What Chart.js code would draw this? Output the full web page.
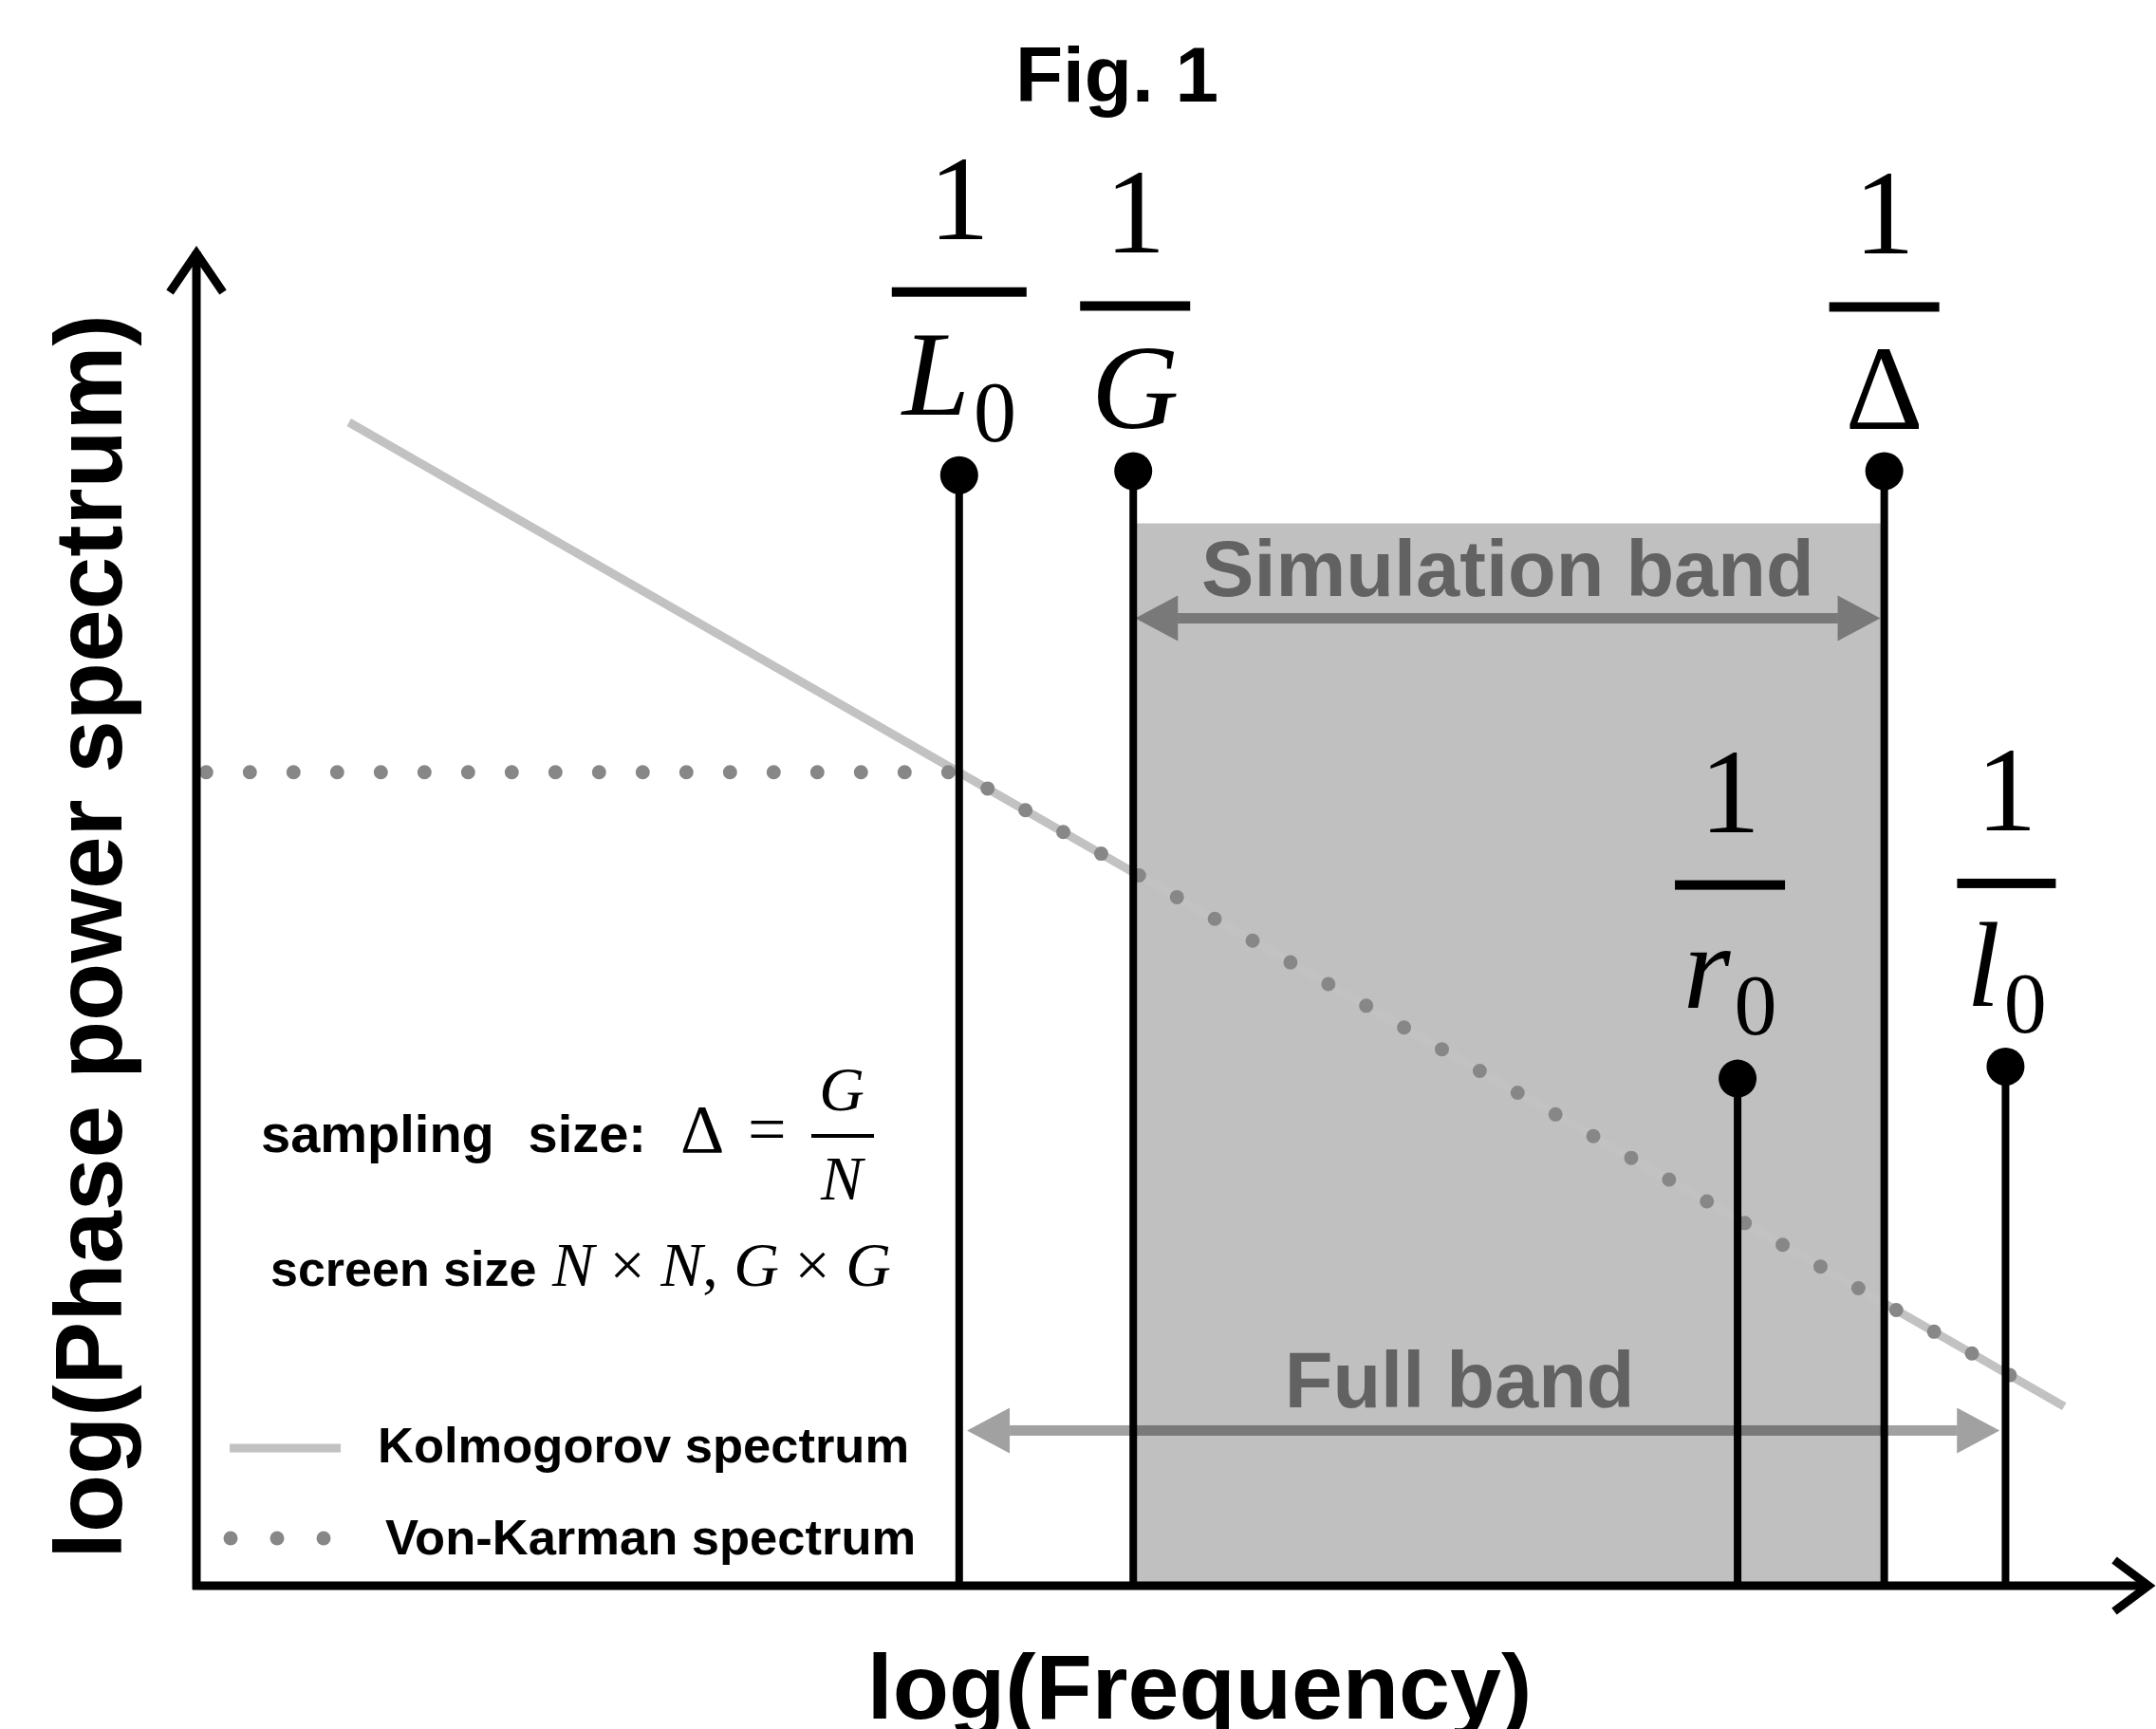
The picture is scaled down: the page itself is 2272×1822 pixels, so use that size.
<!DOCTYPE html>
<html>
<head>
<meta charset="utf-8">
<title>Fig. 1</title>
<script src="https://cdn.jsdelivr.net/npm/chart.js@4.4.0/dist/chart.umd.min.js"></script>
<style>
  html, body { margin: 0; padding: 0; background: #ffffff; }
  canvas { display: block; }
</style>
</head>
<body>
<canvas id="figChart" width="2272" height="1822"></canvas>
<script>
// Axis units: log(Frequency) and log(Power) both run 0 (origin) .. 100 (arrow tip)

// Characteristic frequencies (stems)
const stemNames = ['L0', 'G', 'r0', 'Delta', 'l0'];
const stemX = [39.0, 47.9, 78.8, 86.3, 92.5];
const stemTop = [83.0, 83.3, 37.9, 83.3, 38.8];

// Simulation band: between 1/G and 1/Delta
const bandX = [47.9, 86.3];
const bandTop = [79.4, 79.4];

// Kolmogorov spectrum (straight line in log-log)
const kolmogorovX = [7.8, 95.5];
const kolmogorovY = [86.95, 13.4];

// Von-Karman spectrum (flat below 1/L0, then follows Kolmogorov)
const vonKarmanX = [0.5, 39.0, 93.0];
const vonKarmanY = [60.8, 60.8, 15.5];

// Band arrows
const arrowNames = ['Simulation band', 'Full band'];
const arrowFrom = [48.0, 39.4];
const arrowTo = [86.1, 92.2];
const arrowY = [72.3, 11.6];

// Styles
const SANS = '"Liberation Sans", Arial, sans-serif';
const SERIF = '"Liberation Serif", "Times New Roman", serif';
const kolmogorovColor = '#c2c2c2';
const vonKarmanColor = '#878787';
const bandColor = '#c0c0c0';
const arrowColor = 'rgba(0, 0, 0, 0.37)';
const arrowTextColor = '#626262';
const arrowTextDx = [0, -25];

// Fraction labels 1/x above each stem (gap = px from dot to fraction bar)
const stemLabelStyle = [
    { den: 'L', sub: '0', italic: true,  gap: 193, half: 71, dx: 0 },
    { den: 'G', sub: '',  italic: true,  gap: 174, half: 58, dx: 2 },
    { den: 'r', sub: '0', italic: true,  gap: 204, half: 58, dx: -8 },
    { den: '\u0394', sub: '', italic: false, gap: 173, half: 58, dx: 0 },
    { den: 'l', sub: '0', italic: true,  gap: 193, half: 52, dx: 1 }
];

function toPoints(xs, ys) {
    return xs.map((x, i) => ({ x: x, y: ys[i] }));
}

// Draw a double headed horizontal arrow
function drawDoubleArrow(ctx, x1, x2, y) {
    const head = 45, half = 24, shaft = 11;
    ctx.fillStyle = arrowColor;
    ctx.fillRect(x1 + head, y - shaft / 2, x2 - x1 - 2 * head, shaft);
    ctx.beginPath();
    ctx.moveTo(x1, y);
    ctx.lineTo(x1 + head, y - half);
    ctx.lineTo(x1 + head, y + half);
    ctx.closePath();
    ctx.moveTo(x2, y);
    ctx.lineTo(x2 - head, y - half);
    ctx.lineTo(x2 - head, y + half);
    ctx.closePath();
    ctx.fill();
}

function drawAxes(ctx, area) {
    ctx.strokeStyle = '#000';
    ctx.lineWidth = 9;
    ctx.lineCap = 'butt';
    ctx.lineJoin = 'miter';
    // y axis
    ctx.beginPath();
    ctx.moveTo(area.left, area.bottom + 4);
    ctx.lineTo(area.left, area.top + 4);
    ctx.stroke();
    ctx.beginPath();
    ctx.moveTo(area.left - 28, area.top + 47);
    ctx.lineTo(area.left, area.top + 6);
    ctx.lineTo(area.left + 28, area.top + 47);
    ctx.stroke();
    // x axis
    ctx.beginPath();
    ctx.moveTo(area.left - 4, area.bottom);
    ctx.lineTo(area.right - 4, area.bottom);
    ctx.stroke();
    ctx.beginPath();
    ctx.moveTo(area.right - 40, area.bottom - 27);
    ctx.lineTo(area.right - 4, area.bottom);
    ctx.lineTo(area.right - 40, area.bottom + 27);
    ctx.stroke();
}

// Fraction 1/x labels above the stems
function drawStemLabels(ctx, xs, ys) {
    stemX.forEach((x, i) => {
        const st = stemLabelStyle[i];
        const cx = xs.getPixelForValue(x) + st.dx;
        const barY = ys.getPixelForValue(stemTop[i]) - st.gap;

        ctx.fillStyle = '#000';
        ctx.textAlign = 'center';
        ctx.textBaseline = 'alphabetic';
        ctx.font = '128px ' + SERIF;
        ctx.fillText('1', cx, barY - 56);

        ctx.fillRect(cx - st.half, barY - 5, 2 * st.half, 10);

        const mainFont = (st.italic ? 'italic ' : '') + '128px ' + SERIF;
        const subFont = '90px ' + SERIF;
        ctx.font = mainFont;
        const wMain = ctx.measureText(st.den).width;
        ctx.font = subFont;
        const wSub = st.sub ? ctx.measureText(st.sub).width + 4 : 0;
        const left = cx - (wMain + wSub) / 2;
        ctx.textAlign = 'left';
        ctx.font = mainFont;
        ctx.fillText(st.den, left, barY + 129);
        if (st.sub) {
            ctx.font = subFont;
            ctx.fillText(st.sub, left + wMain + 4, barY + 157);
        }
    });
}

// Draw runs of [text, italic] in serif
function drawMathRuns(ctx, runs, x, y, size) {
    ctx.textAlign = 'left';
    runs.forEach(run => {
        ctx.font = (run[1] ? 'italic ' : '') + size + 'px ' + SERIF;
        ctx.fillText(run[0], x, y);
        x += ctx.measureText(run[0]).width;
    });
}

function drawTexts(ctx, xs, ys) {
    ctx.fillStyle = '#000';
    ctx.textBaseline = 'alphabetic';

    // Title
    ctx.textAlign = 'center';
    ctx.font = 'bold 82px ' + SANS;
    ctx.fillText('Fig. 1', 1177, 107);

    // Axis titles
    ctx.font = 'bold 97px ' + SANS;
    ctx.fillText('log(Frequency)', 1264, 1811);
    ctx.save();
    ctx.translate(128, 987);
    ctx.rotate(-Math.PI / 2);
    ctx.font = 'bold 100px ' + SANS;
    ctx.fillText('log(Phase power spectrum)', 0, 0);
    ctx.restore();

    // Band arrows and their labels
    arrowNames.forEach((name, i) => {
        const x1 = xs.getPixelForValue(arrowFrom[i]);
        const x2 = xs.getPixelForValue(arrowTo[i]);
        const y = ys.getPixelForValue(arrowY[i]);
        drawDoubleArrow(ctx, x1, x2, y);
        ctx.fillStyle = arrowTextColor;
        ctx.textAlign = 'center';
        ctx.font = 'bold 83px ' + SANS;
        ctx.fillText(name, (x1 + x2) / 2 + arrowTextDx[i], y - 24);
    });
}

function drawNotes(ctx) {
    ctx.fillStyle = '#000';
    ctx.textBaseline = 'alphabetic';

    // sampling size: Delta = G / N
    ctx.textAlign = 'left';
    ctx.font = 'bold 56px ' + SANS;
    ctx.fillText('sampling', 275, 1214);
    ctx.textAlign = 'right';
    ctx.fillText('size:', 681, 1214);
    drawMathRuns(ctx, [['\u0394', false]], 717, 1214, 72);
    drawMathRuns(ctx, [['=', false]], 788, 1214, 72);
    ctx.textAlign = 'center';
    ctx.font = 'italic 66px ' + SERIF;
    ctx.fillText('G', 887, 1170);
    ctx.fillText('N', 887, 1264);
    ctx.fillRect(855, 1195, 66, 4);

    // screen size N x N, G x G
    ctx.textAlign = 'left';
    ctx.font = 'bold 52px ' + SANS;
    ctx.fillText('screen size', 285, 1355);
    drawMathRuns(ctx, [
        ['N', true], [' \u00d7 ', false], ['N', true], [', ', false],
        ['G', true], [' \u00d7 ', false], ['G', true]
    ], 582, 1355, 66);

    // Legend
    ctx.strokeStyle = kolmogorovColor;
    ctx.lineWidth = 9;
    ctx.lineCap = 'butt';
    ctx.beginPath();
    ctx.moveTo(242, 1526);
    ctx.lineTo(359, 1526);
    ctx.stroke();

    ctx.fillStyle = vonKarmanColor;
    [243, 292, 341].forEach(cx => {
        ctx.beginPath();
        ctx.arc(cx, 1621, 7.5, 0, Math.PI * 2);
        ctx.fill();
    });

    ctx.fillStyle = '#000';
    ctx.font = 'bold 52.5px ' + SANS;
    ctx.fillText('Kolmogorov spectrum', 398, 1541);
    ctx.fillText('Von-Karman spectrum', 406, 1638);
}

const figurePlugin = {
    id: 'figureDecor',
    afterDatasetsDraw(chart) {
        const ctx = chart.ctx;
        ctx.save();
        drawTexts(ctx, chart.scales.x, chart.scales.y);
        drawAxes(ctx, chart.chartArea);
        drawStemLabels(ctx, chart.scales.x, chart.scales.y);
        drawNotes(ctx);
        ctx.restore();
    }
};

// Build datasets
const datasets = [];

datasets.push({
    label: 'Simulation band',
    data: toPoints(bandX, bandTop),
    showLine: true,
    fill: 'origin',
    backgroundColor: bandColor,
    borderWidth: 0,
    pointRadius: 0,
    order: 4
});

datasets.push({
    label: 'Kolmogorov spectrum',
    data: toPoints(kolmogorovX, kolmogorovY),
    showLine: true,
    borderColor: kolmogorovColor,
    borderWidth: 9,
    pointRadius: 0,
    order: 3
});

datasets.push({
    label: 'Von-Karman spectrum',
    data: toPoints(vonKarmanX, vonKarmanY),
    showLine: true,
    borderColor: vonKarmanColor,
    borderWidth: 15,
    borderDash: [0, 46],
    borderCapStyle: 'round',
    borderJoinStyle: 'round',
    pointRadius: 0,
    order: 2
});

stemX.forEach((x, i) => {
    datasets.push({
        label: stemNames[i],
        data: [{ x: x, y: 0 }, { x: x, y: stemTop[i] }],
        showLine: true,
        borderColor: '#000',
        borderWidth: 8,
        pointRadius: [0, 20],
        pointBackgroundColor: '#000',
        pointBorderWidth: 0,
        order: 1
    });
});

const figChart = new Chart(document.getElementById('figChart'), {
    type: 'scatter',
    data: { datasets: datasets },
    options: {
        responsive: false,
        devicePixelRatio: 1,
        animation: false,
        events: [],
        clip: false,
        layout: {
            autoPadding: false,
            padding: { left: 207, right: 4, top: 261, bottom: 151 }
        },
        plugins: {
            legend: { display: false },
            tooltip: { enabled: false }
        },
        scales: {
            x: { type: 'linear', min: 0, max: 100, display: false },
            y: { type: 'linear', min: 0, max: 100, display: false }
        }
    },
    plugins: [figurePlugin]
});
</script>
</body>
</html>
